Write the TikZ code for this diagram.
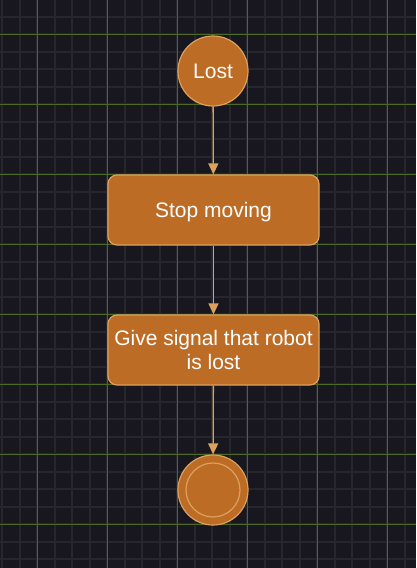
\documentclass[tikz,border=0pt]{standalone}
\usepackage{fontspec}
\setmainfont{Liberation Sans}
\usetikzlibrary{arrows.meta}
\definecolor{bg}{HTML}{18171F}
\definecolor{minorgrid}{HTML}{25272A}
\definecolor{majorgrid}{HTML}{4A6A26}
\definecolor{nodefill}{HTML}{BC6C25}
\definecolor{nodeline}{HTML}{DDA15E}
\begin{document}
\begin{tikzpicture}[x=1pt,y=-1pt,
  state/.style={circle,draw=nodeline,fill=nodefill,line width=1.2pt,minimum size=70pt,inner sep=0pt,text=white,text depth=0pt,font=\fontsize{21}{24.5}\selectfont},
  actbox/.style={rectangle,rounded corners=9pt,draw=nodeline,fill=nodefill,line width=1.2pt,minimum width=211pt,minimum height=70pt,inner sep=0pt,text=white,align=center,text depth=0pt,font=\fontsize{21}{24.5}\selectfont},
  flow/.style={draw=nodeline,line width=1.3pt,-{Triangle[length=11pt,width=10pt]}}]
\useasboundingbox (0,0) rectangle (416,568);
\fill[bg] (0,0) rectangle (416,568);
\foreach \k in {0,...,23} {
  \draw[minorgrid,line width=2pt] ({2.3+17.5*\k},0) -- ({2.3+17.5*\k},568);
}
\foreach \k in {0,...,32} {
  \draw[minorgrid,line width=2pt] (0,{-0.7+17.5*\k}) -- (416,{-0.7+17.5*\k});
}
\foreach \k in {0,...,5} {
  \draw[majorgrid,line width=0.9pt] ({37.3+70*\k},0) -- ({37.3+70*\k},568);
}
\foreach \k in {0,...,7} {
  \draw[majorgrid,line width=0.9pt] (0,{34.3+70*\k}) -- (416,{34.3+70*\k});
}
\node[state] (lost) at (213,71) {Lost};
\node[actbox] (stop) at (213.5,210) {Stop moving};
\node[actbox] (signal) at (213.5,350) {Give signal that robot\\is lost};
\node[state] (final) at (213,490) {};
\draw[nodeline,line width=1.2pt] (final.center) circle (27pt);
\draw[flow] (lost) -- (stop);
\draw[flow] (stop) -- (signal);
\draw[flow] (signal) -- (final);
\end{tikzpicture}
\end{document}
